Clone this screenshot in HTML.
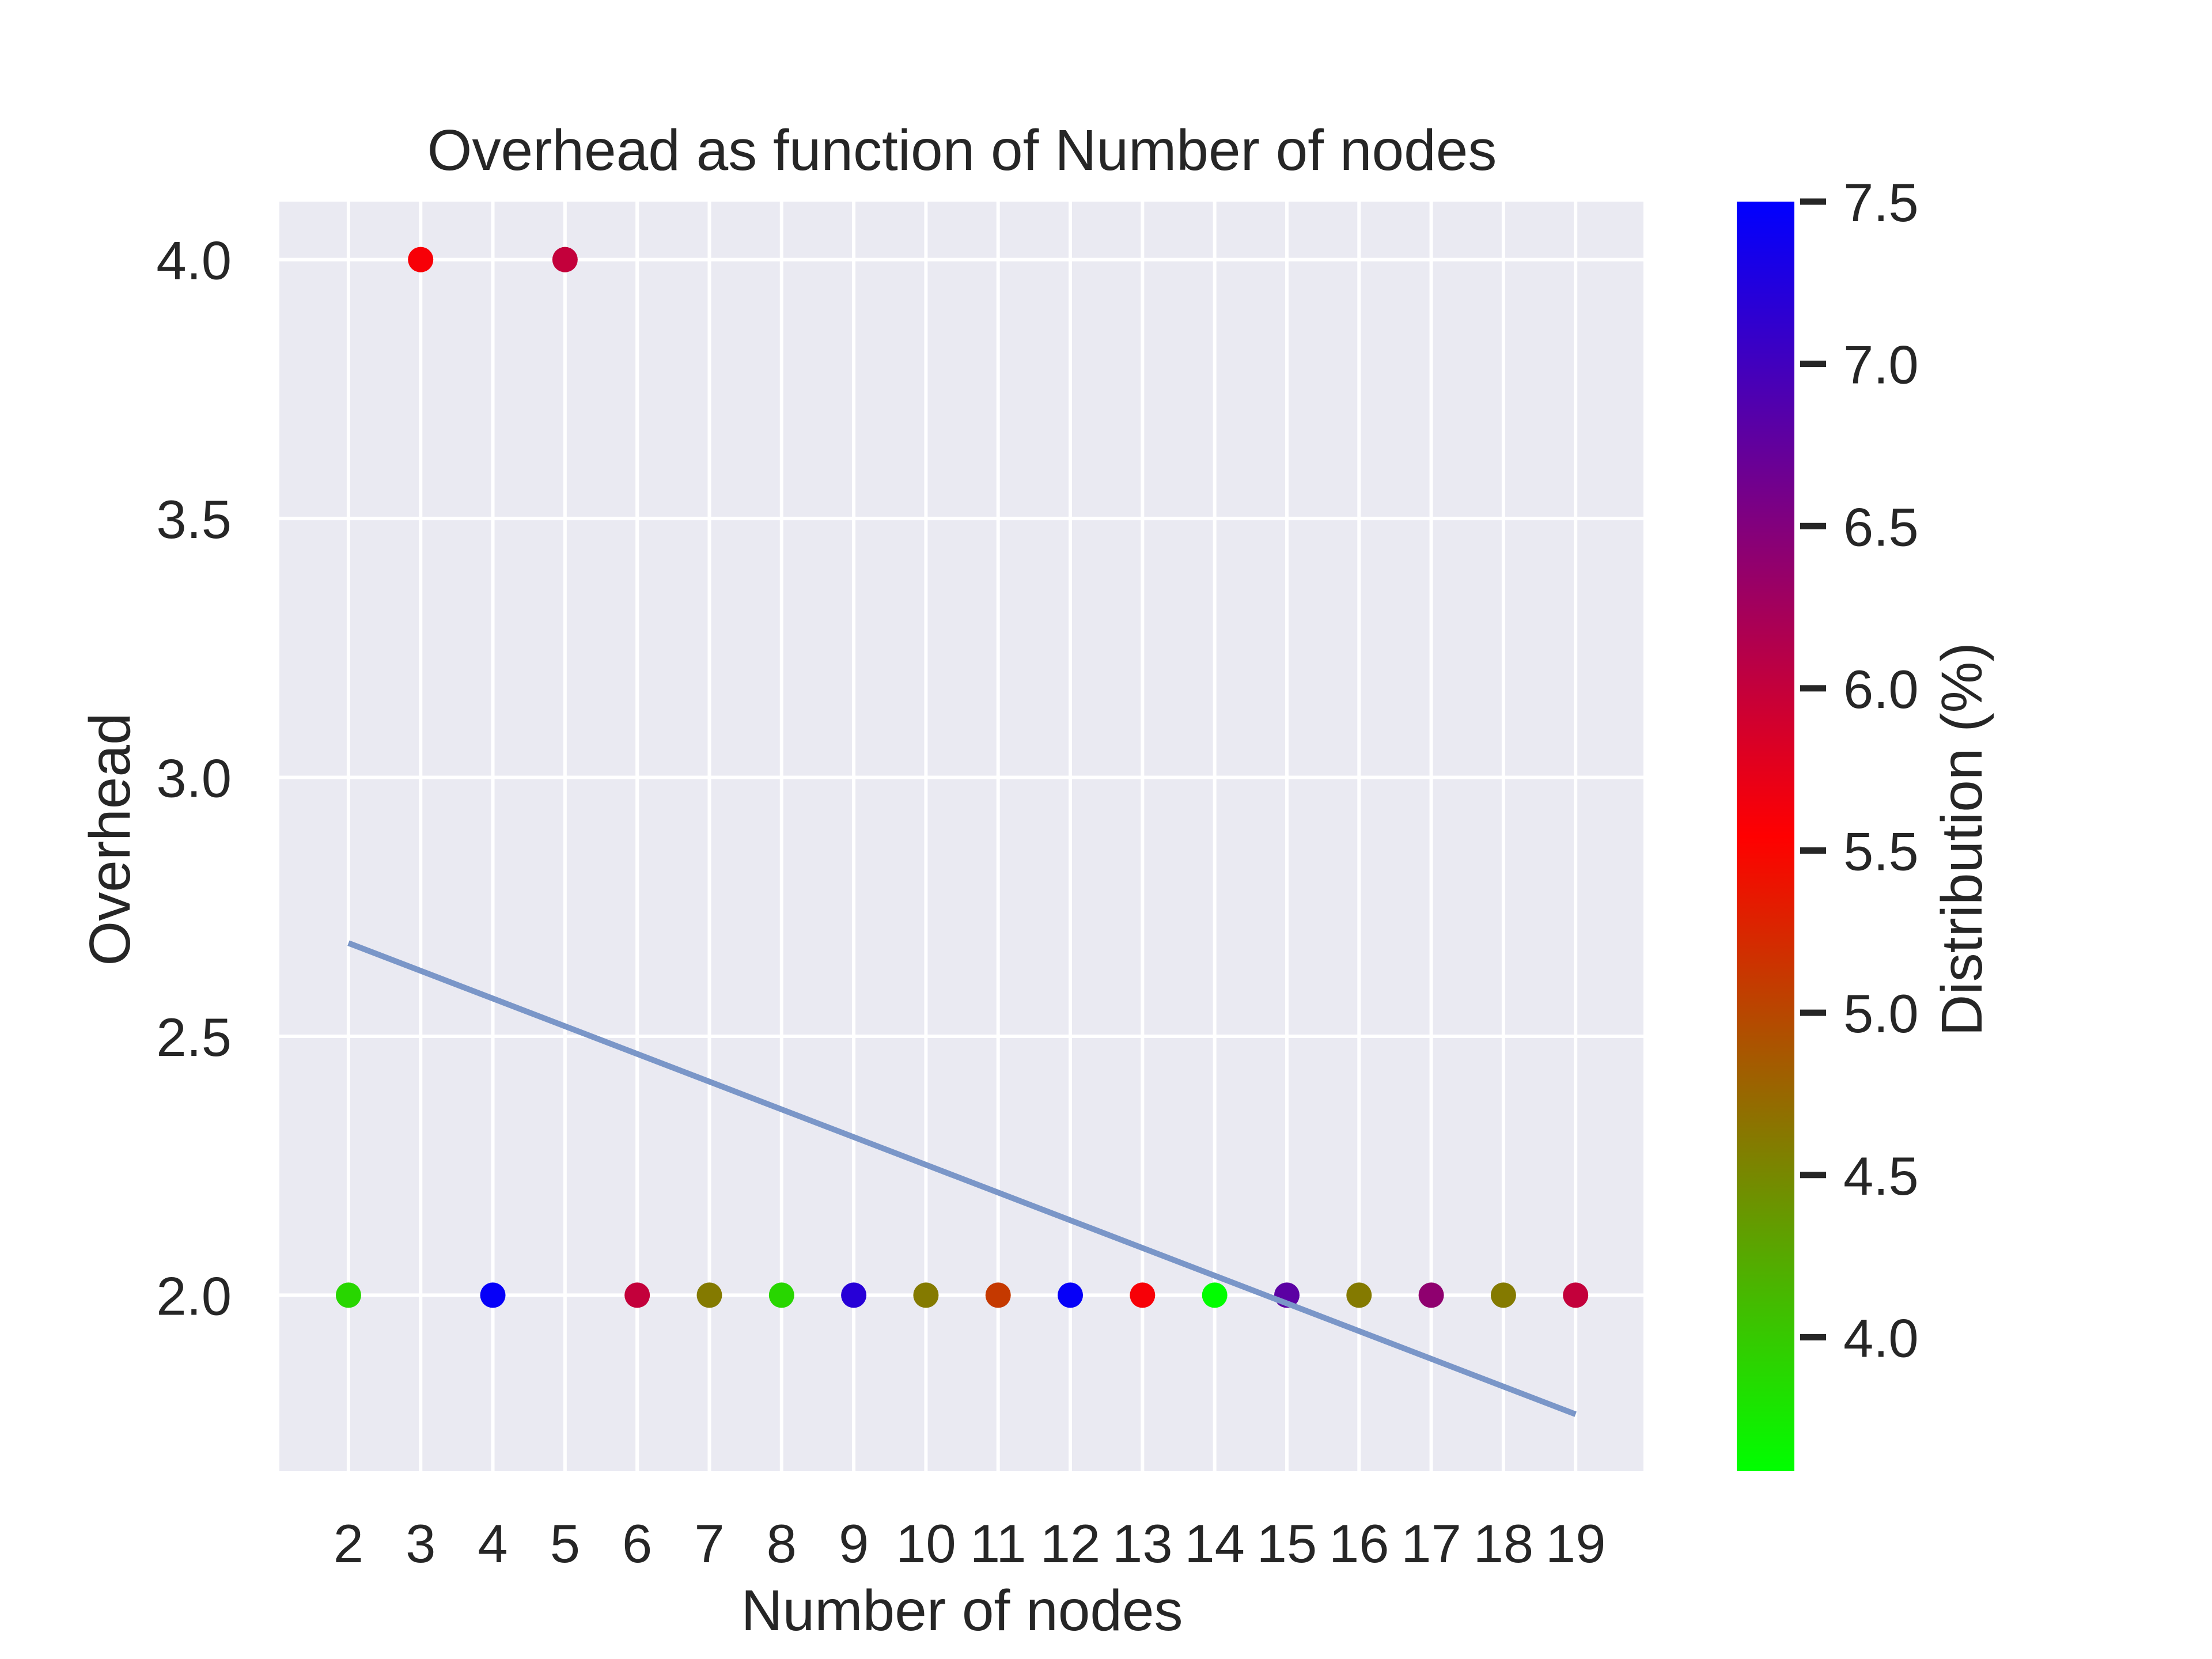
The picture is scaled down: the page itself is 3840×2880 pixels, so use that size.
<!DOCTYPE html>
<html>
<head>
<meta charset="utf-8">
<style>
html,body{margin:0;padding:0;background:#fff;}
svg{display:block;font-family:"Liberation Sans",Arial,sans-serif;}
</style>
</head>
<body>
<svg id="chart" width="3840" height="2880" viewBox="0 0 3840 2880" xmlns="http://www.w3.org/2000/svg">
  <defs>
    <linearGradient id="cmap" x1="0" y1="1" x2="0" y2="0">
      <stop offset="0" stop-color="#00ff00"/>
      <stop offset="0.5" stop-color="#ff0000"/>
      <stop offset="1" stop-color="#0000ff"/>
    </linearGradient>
  </defs>
  <rect x="485" y="350" width="2368" height="2204" fill="#eaeaf2"/>
  <g id="grid"></g>
  <g id="marks"></g>
  <g id="ticks" font-size="94" fill="#262626"></g>
  <text x="1670" y="295" font-size="100" text-anchor="middle" fill="#262626">Overhead as function of Number of nodes</text>
  <text x="1670" y="2830" font-size="100" text-anchor="middle" fill="#262626">Number of nodes</text>
  <text x="0" y="0" font-size="100" text-anchor="middle" fill="#262626" transform="translate(225,1457) rotate(-90)">Overhead</text>
  <rect x="3015" y="350" width="100" height="2204" fill="url(#cmap)"/>
  <g id="cbticks" font-size="94" fill="#262626"></g>
  <text x="0" y="0" font-size="100" text-anchor="middle" fill="#262626" transform="translate(3440,1457) rotate(-90)">Distribution (%)</text>
</svg>
<script>
const nodes = [2,3,4,5,6,7,8,9,10,11,12,13,14,15,16,17,18,19];
const overhead = [2,4,2,4,2,2,2,2,2,2,2,2,2,2,2,2,2,2];
const distribution = [3.9,5.6,7.45,6.0,6.0,4.6,3.9,7.2,4.6,5.1,7.45,5.6,3.6,6.8,4.6,6.4,4.6,6.0];
const fitStart = [2,2.68];
const fitEnd = [19,1.77];
const yTicks = [2.0,2.5,3.0,3.5,4.0];
const cbTicks = [4.0,4.5,5.0,5.5,6.0,6.5,7.0,7.5];

const NS="http://www.w3.org/2000/svg";
const X0=485,X1=2853,Y0=350,Y1=2554;
const xmin=1.043,xmax=19.94,ymin=1.66,ymax=4.112;
const cmin=3.587,cmax=7.5;
const sx=v=>X0+(v-xmin)/(xmax-xmin)*(X1-X0);
const sy=v=>Y1-(v-ymin)/(ymax-ymin)*(Y1-Y0);
const sc=v=>Y1-(v-cmin)/(cmax-cmin)*(Y1-Y0);
function color(v){
  let t=Math.max(0,Math.min(1,(v-cmin)/(cmax-cmin)));
  let r,g,b;
  if(t<0.5){let u=t/0.5;r=255*u;g=255*(1-u);b=0;}
  else{let u=(t-0.5)/0.5;r=255*(1-u);g=0;b=255*u;}
  return `rgb(${r|0},${g|0},${b|0})`;
}
function mk(tag,attrs,parent){const e=document.createElementNS(NS,tag);for(const k in attrs)e.setAttribute(k,attrs[k]);parent.appendChild(e);return e;}
const grid=document.getElementById('grid'),marks=document.getElementById('marks'),ticks=document.getElementById('ticks'),cbt=document.getElementById('cbticks');
nodes.forEach(n=>{
  const l=mk('line',{x1:sx(n),x2:sx(n),y1:Y0,y2:Y1,stroke:'#fff','stroke-width':6},grid);
  
  
  const t=mk('text',{x:sx(n),y:2712,'text-anchor':'middle'},ticks);
  t.textContent=n;
  
  
});
yTicks.forEach(v=>{
  const l=mk('line',{x1:X0,x2:X1,y1:sy(v),y2:sy(v),stroke:'#fff','stroke-width':6},grid);
  
  
  const t=mk('text',{x:402,y:sy(v)+34,'text-anchor':'end'},ticks);
  t.textContent=v.toFixed(1);
  
  
});
nodes.forEach((n,i)=>{
  const c=mk('circle',{cx:sx(n),cy:sy(overhead[i]),r:22,fill:color(distribution[i])},marks);
  
  
});
const fl=mk('line',{x1:sx(fitStart[0]),y1:sy(fitStart[1]),x2:sx(fitEnd[0]),y2:sy(fitEnd[1]),stroke:'#7a96c8','stroke-width':10},marks);


cbTicks.forEach(v=>{
  const l=mk('line',{x1:3125,x2:3170,y1:sc(v),y2:sc(v),stroke:'#262626','stroke-width':11},cbt);
  
  
  const t=mk('text',{x:3200,y:sc(v)+34},cbt);
  t.textContent=v.toFixed(1);
  
  
});
</script>
</body>
</html>
